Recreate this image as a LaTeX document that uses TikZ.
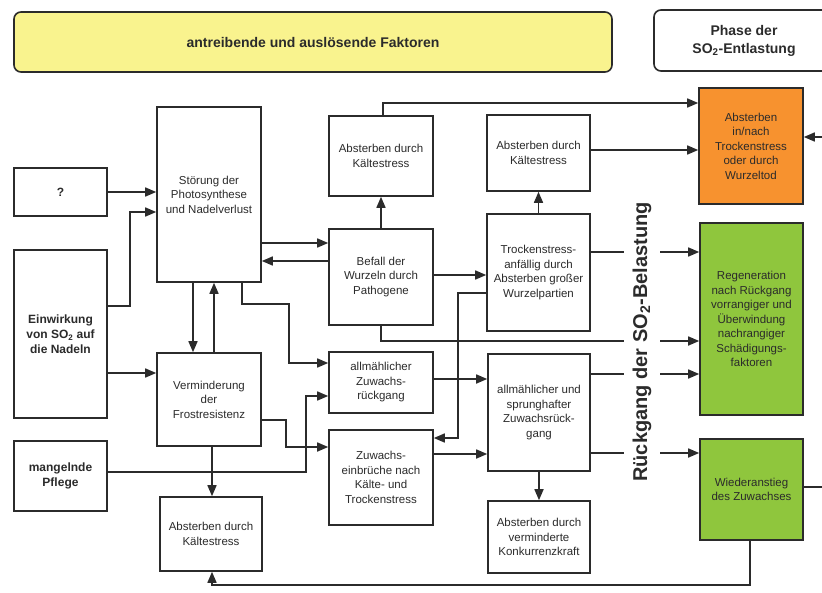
\documentclass[tikz,border=0pt]{standalone}
\usepackage{fontspec}
\setmainfont{Liberation Sans}
\usetikzlibrary{arrows.meta}
\definecolor{ink}{HTML}{2B2B2B}
\definecolor{yel}{HTML}{F9F38E}
\definecolor{org}{HTML}{F7922F}
\definecolor{grn}{HTML}{8FC63D}
\begin{document}
\begin{tikzpicture}[x=1pt,y=-1pt,
  box/.style={draw=ink, line width=1.6pt, fill=white, align=center, text=ink,
    font=\fontsize{11.5}{14.5}\selectfont, inner sep=1pt},
  bbox/.style={box, font=\bfseries\fontsize{12}{15}\selectfont},
  rbox/.style={draw=ink, line width=1.6pt, rounded corners=7pt, align=center, text=ink,
    font=\bfseries\fontsize{14}{18}\selectfont},
  arr/.style={draw=ink, line width=1.6pt, -{Triangle[length=11pt,width=9pt]}},
  ln/.style={draw=ink, line width=1.6pt}]
\clip (0,0) rectangle (822,592);
\fill[white] (0,0) rectangle (822,592);

% header boxes
\node[rbox, fill=yel, minimum width=598pt, minimum height=60pt] (head) at (313,42) {antreibende und auslösende Faktoren};
\node[rbox, fill=white, minimum width=180pt, minimum height=61pt] (phase) at (744,40.5) {Phase der\\SO\textsubscript{2}-Entlastung};

% left column
\node[bbox, minimum width=93pt, minimum height=48pt] (q) at (60.5,192) {?};
\node[bbox, minimum width=93pt, minimum height=168pt] (ein) at (60.5,334) {Einwirkung\\von SO\textsubscript{2} auf\\die Nadeln};
\node[bbox, minimum width=93pt, minimum height=70pt] (pflege) at (60.5,476) {mangelnde\\Pflege};

% second column
\node[box, minimum width=104pt, minimum height=175pt] (stoer) at (209,194.5) {Störung der\\Photosynthese\\und Nadelverlust};
\node[box, minimum width=104pt, minimum height=93pt] (verm) at (209,399.5) {Verminderung\\der\\Frostresistenz};
\node[box, minimum width=102pt, minimum height=74pt] (abk1) at (211,534) {Absterben durch\\Kältestress};

% third column
\node[box, minimum width=104pt, minimum height=80pt] (abk2) at (381,156) {Absterben durch\\Kältestress};
\node[box, minimum width=104pt, minimum height=96pt] (befall) at (381,277) {Befall der\\Wurzeln durch\\Pathogene};
\node[box, minimum width=104pt, minimum height=61pt] (allm) at (381,382.5) {allmählicher\\Zuwachs-\\rückgang};
\node[box, minimum width=104pt, minimum height=95pt] (zuw) at (381,477.5) {Zuwachs-\\einbrüche nach\\Kälte- und\\Trockenstress};

% fourth column
\node[box, minimum width=103pt, minimum height=76pt] (abk3) at (538.5,153) {Absterben durch\\Kältestress};
\node[box, minimum width=103pt, minimum height=117pt] (trock) at (538.5,272.5) {Trockenstress-\\anfällig durch\\Absterben großer\\Wurzelpartien};
\node[box, minimum width=102pt, minimum height=117pt] (sprung) at (539,412.5) {allmählicher und\\sprunghafter\\Zuwachsrück-\\gang};
\node[box, minimum width=102pt, minimum height=72pt] (konk) at (539,537) {Absterben durch\\verminderte\\Konkurrenzkraft};

% right column
\node[box, fill=org, minimum width=104pt, minimum height=116pt] (orange) at (751,146) {Absterben\\in/nach\\Trockenstress\\oder durch\\Wurzeltod};
\node[box, fill=grn, minimum width=103pt, minimum height=192pt] (green1) at (751.5,319) {Regeneration\\nach Rückgang\\vorrangiger und\\Überwindung\\nachrangiger\\Schädigungs-\\faktoren};
\node[box, fill=grn, minimum width=103pt, minimum height=101pt] (green2) at (751.5,489.5) {Wiederanstieg\\des Zuwachses};

\coordinate (inR) at (822,137);
\coordinate (outR) at (822,487);

% connectors
\draw[arr] (q.east) -- (stoer.west |- q.east);
\draw[arr] (ein.east |- 0,306) -| (130,212) -- (stoer.west |- 0,212);
\draw[arr] (ein.east |- 0,373) -- (verm.west |- 0,373);
\draw[arr] (193,0 |- stoer.south) -- (193,0 |- verm.north);
\draw[arr] (214,0 |- verm.north) -- (214,0 |- stoer.south);
\draw[arr] (stoer.east |- 0,243) -- (befall.west |- 0,243);
\draw[arr] (befall.west |- 0,261) -- (stoer.east |- 0,261);
\draw[arr] (242,0 |- stoer.south) |- (289,304) |- (allm.west |- 0,363);
\draw[arr] (pflege.east |- 0,472) -| (306,396) -- (allm.west |- 0,396);
\draw[arr] (verm.east |- 0,420) -| (286,447) -- (zuw.west |- 0,447);
\draw[arr] (212,0 |- verm.south) -- (212,0 |- abk1.north);
\draw[arr] (750,0 |- green2.south) |- (212,585) -- (212,0 |- abk1.south);
\draw[arr] (befall.north) -- (abk2.south);
\draw[arr] (383,0 |- abk2.north) |- (orange.west |- 0,103);
\draw[arr] (befall.east |- 0,275) -- (trock.west |- 0,275);
\draw[arr] (befall.south) |- (green1.west |- 0,341);
\draw[arr] (trock.west |- 0,293) -| (458,438) -- (zuw.east |- 0,438);
\draw[arr] (allm.east |- 0,379) -- (sprung.west |- 0,379);
\draw[arr] (zuw.east |- 0,454) -- (sprung.west |- 0,454);
\draw[arr] (sprung.south) -- (konk.north);
\draw[arr] (trock.north) -- (abk3.south);
\draw[arr] (abk3.east |- 0,150) -- (orange.west |- 0,150);
\draw[arr] (trock.east |- 0,252) -- (green1.west |- 0,252);
\draw[arr] (sprung.east |- 0,374) -- (green1.west |- 0,374);
\draw[arr] (sprung.east |- 0,453) -- (green2.west |- 0,453);
\draw[arr] (inR) -- (orange.east |- inR);
\draw[ln] (green2.east |- outR) -- (outR);

% rotated label
\node[fill=white, rotate=90, text=ink, font=\bfseries\fontsize{20}{24}\selectfont,
  inner xsep=3pt, inner ysep=9pt] (lab) at (642,342) {Rückgang der SO\textsubscript{2}-Belastung};
\end{tikzpicture}
\end{document}
